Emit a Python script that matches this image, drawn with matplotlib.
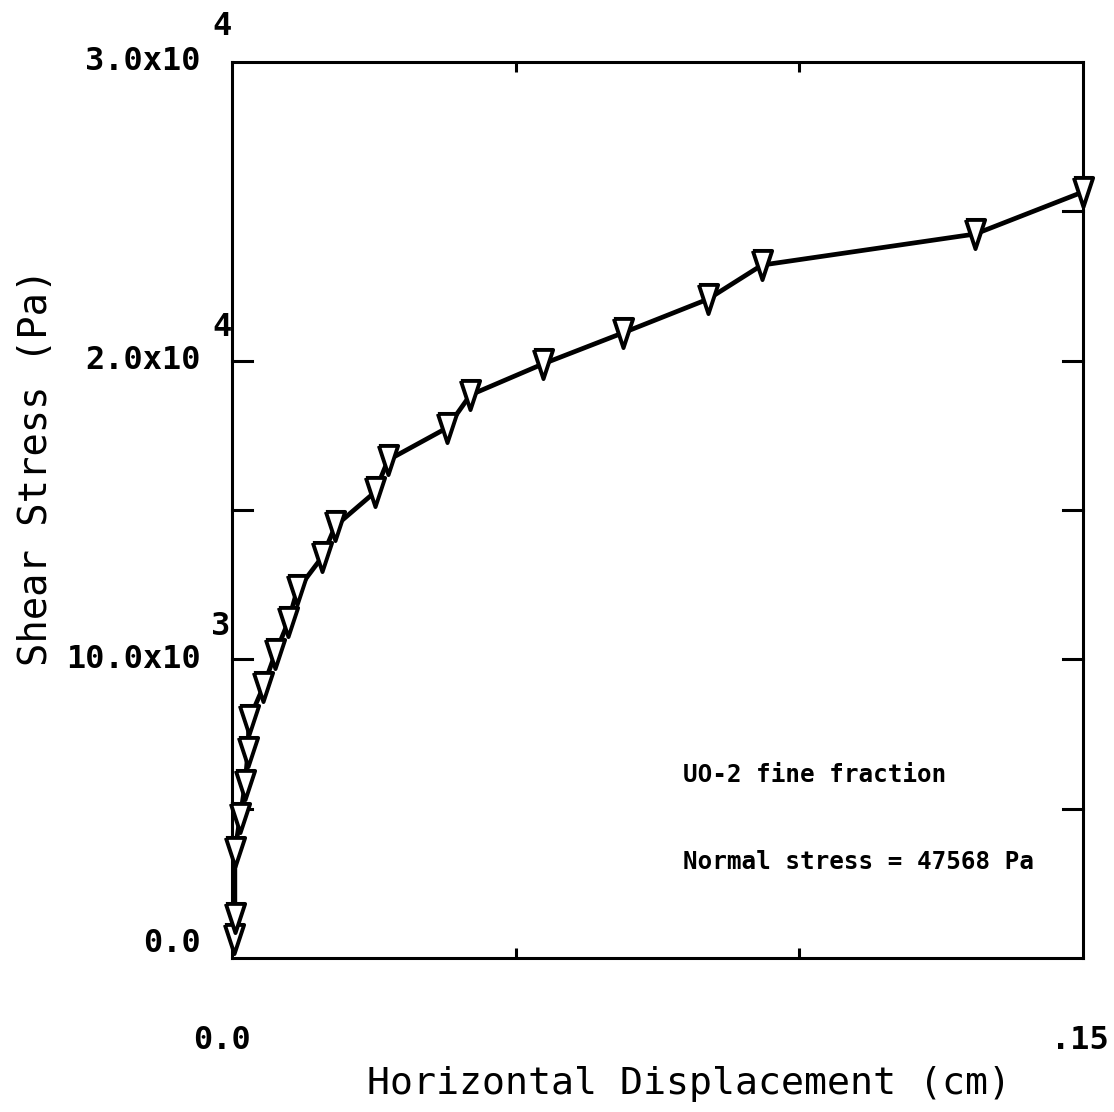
import matplotlib
matplotlib.use("Agg")
import matplotlib.pyplot as plt

# Data
displacement_cm = [0.0004, 0.0005, 0.0005, 0.0014, 0.0023, 0.0028, 0.0030,
                   0.0055, 0.0076, 0.0099, 0.0115, 0.0159, 0.0182, 0.0252,
                   0.0275, 0.0379, 0.0420, 0.0548, 0.0689, 0.0839, 0.0934,
                   0.1310, 0.1500]
shear_stress_pa = [650, 1340, 3550, 4690, 5790, 6900, 7970,
                   9070, 10180, 11250, 12320, 13430, 14460, 15600,
                   16670, 17750, 18850, 19890, 20930, 22060, 23200,
                   24240, 25650]

x_label = "Horizontal Displacement (cm)"
y_label = "Shear Stress (Pa)"
annot1 = "UO-2 fine fraction"
annot2 = "Normal stress = 47568 Pa"

mono = "DejaVu Sans Mono"

# tall, narrow downward triangle marker
tri_down = [(-0.33, 0.5), (0.33, 0.5), (0.0, -0.5), (-0.33, 0.5)]

fig = plt.figure(figsize=(11.14, 11.12), dpi=100)
ax = fig.add_axes([232 / 1114, 1 - 958 / 1112, (1083 - 232) / 1114, (958 - 62) / 1112])

ax.plot(displacement_cm, shear_stress_pa, color="black", lw=3.4,
        marker=tri_down, markersize=21, markerfacecolor="white",
        markeredgecolor="black", markeredgewidth=2.8, zorder=3, clip_on=False)

ax.set_xlim(0, 0.15)
ax.set_ylim(0, 30000)

for s in ax.spines.values():
    s.set_linewidth(2.2)

# ticks
ax.set_xticks([0.05, 0.10])
ax.set_yticks([])
ax.tick_params(axis="x", which="both", direction="in", length=7, width=2.2,
               top=True, bottom=True, labelbottom=False)
# left and right tick marks
for yv in [5000, 10000, 15000, 20000]:
    ax.plot([0, 0.0035], [yv, yv], color="black", lw=2.2, clip_on=False)
for yv in [5000, 10000, 15000, 20000, 25000]:
    ax.plot([0.15 - 0.0035, 0.15], [yv, yv], color="black", lw=2.2, clip_on=False)

# y tick labels
tkw = dict(family=mono, fontweight="bold", fontsize=23, color="black")
ax.text(-0.0055, 30000, "3.0x10", ha="right", va="center", **tkw)
ax.text(-0.0018, 31200, "4", ha="center", va="center", **tkw)
ax.text(-0.0055, 20000, "2.0x10", ha="right", va="center", **tkw)
ax.text(-0.0018, 21100, "4", ha="center", va="center", **tkw)
ax.text(-0.0055, 10000, "10.0x10", ha="right", va="center", **tkw)
ax.text(-0.0020, 11100, "3", ha="center", va="center", **tkw)
ax.text(-0.0055, 500, "0.0", ha="right", va="center", **tkw)

# x tick labels
ax.text(-0.0018, -2750, "0.0", ha="center", va="center", **tkw)
ax.text(0.1495, -2750, ".15", ha="center", va="center", **tkw)

# axis labels
fig.text(689 / 1114, 1 - 1084 / 1112, x_label, ha="center", va="center",
         family=mono, fontsize=27.5)
fig.text(36 / 1114, 1 - 467 / 1112, y_label, ha="center", va="center",
         rotation=90, family=mono, fontsize=28)

# annotations
akw = dict(family=mono, fontweight="bold", fontsize=17.5, color="black")
fig.text(683 / 1114, 1 - 775 / 1112, annot1, ha="left", va="center", **akw)
fig.text(683 / 1114, 1 - 862 / 1112, annot2, ha="left", va="center", **akw)

fig.savefig("out.png", dpi=100)
